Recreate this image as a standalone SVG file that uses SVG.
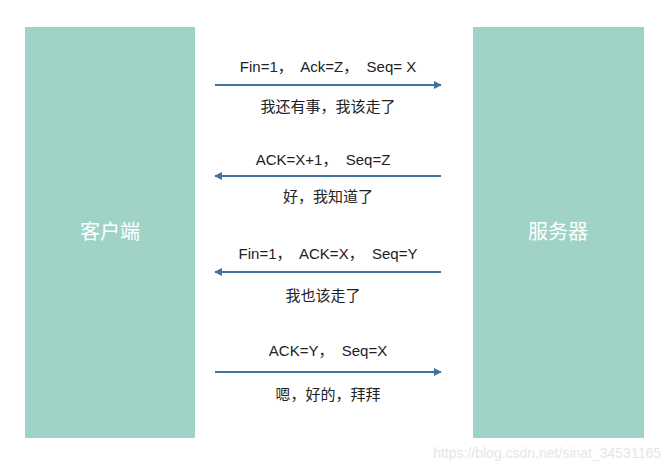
<svg xmlns="http://www.w3.org/2000/svg" width="671" height="471" viewBox="0 0 671 471">
<style>
.box{fill:#9fd3c7}
.bt{font-family:"Noto Sans CJK SC",sans-serif;font-size:20px;fill:#fff;text-anchor:middle}
.t{font-family:"Liberation Sans","Noto Sans CJK SC",sans-serif;font-size:15px;fill:#222;text-anchor:middle}
.c{font-family:"Noto Sans CJK SC",sans-serif;font-size:15px;fill:#222;text-anchor:middle}
.a{stroke:#41719c;stroke-width:2;fill:none}
</style>
<defs><marker id="ah" viewBox="0 0 10 10" refX="9" refY="5" markerWidth="4" markerHeight="4" orient="auto-start-reverse"><path d="M0,0L10,5L0,10z" fill="#41719c"/></marker></defs>
<rect width="671" height="471" fill="#fff"/>
<g id="client"><rect class="box" x="25" y="27" width="170" height="411"/><text class="bt" x="110" y="239">客户端</text></g>
<g id="server"><rect class="box" x="473" y="27" width="171" height="411"/><text class="bt" x="558" y="239">服务器</text></g>
<g id="connectors">
<line class="a" x1="215" y1="85" x2="441" y2="85" marker-end="url(#ah)"/>
<line class="a" x1="441" y1="176" x2="215" y2="176" marker-end="url(#ah)"/>
<line class="a" x1="441" y1="272" x2="215" y2="272" marker-end="url(#ah)"/>
<line class="a" x1="215" y1="372" x2="441" y2="372" marker-end="url(#ah)"/>
</g>
<g id="labels">
<text class="t" x="328" y="72" xml:space="preserve">Fin=1，  Ack=Z，  Seq= X</text>
<text class="c" x="328" y="112">我还有事，我该走了</text>
<text class="t" x="323" y="165" xml:space="preserve">ACK=X+1，  Seq=Z</text>
<text class="c" x="328" y="202">好，我知道了</text>
<text class="t" x="328" y="259" xml:space="preserve">Fin=1，  ACK=X，  Seq=Y</text>
<text class="c" x="323" y="301">我也该走了</text>
<text class="t" x="328" y="356" xml:space="preserve">ACK=Y，  Seq=X</text>
<text class="c" x="328" y="400">嗯，好的，拜拜</text>
</g>
<text x="661" y="458" font-family="Liberation Sans,sans-serif" font-size="14" fill="#e6e6e6" text-anchor="end">https://blog.csdn.net/sinat_34531165</text>
</svg>
